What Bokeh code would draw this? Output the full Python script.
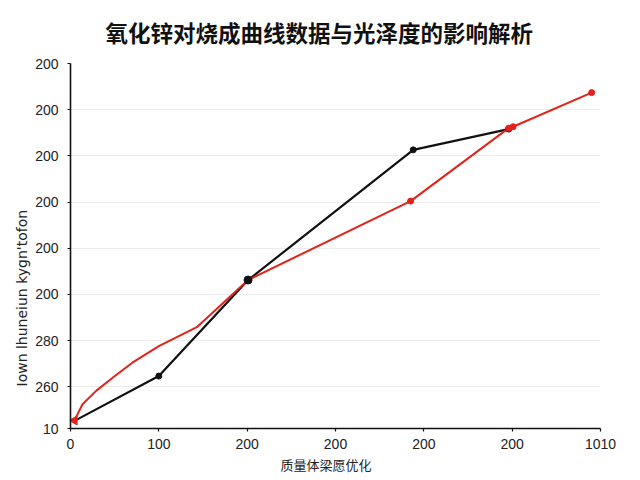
import math
from bokeh.plotting import figure
from bokeh.models import FixedTicker, Range1d, Title
from bokeh.embed import file_html
from bokeh.resources import INLINE

# ---- data ----
title_text = "氧化锌对烧成曲线数据与光泽度的影响解析"
x_label_text = "质量体梁愿优化"
y_label_text = "Iown lhuneiun  kygn'tofon"

x_ticks = [0, 1, 2, 3, 4, 5, 6]
x_tick_labels = ["0", "100", "200", "200", "200", "200", "1010"]
y_ticks = [0.095, 1, 2, 3, 4, 5, 6, 7, 8]
y_tick_labels = ["10", "260", "280", "200", "200", "200", "200", "200", "200"]

black_x = [0.045, 1.0, 2.01, 3.88, 4.96]
black_y = [0.26, 1.23, 3.31, 6.13, 6.58]
black_marker_idx = [1, 3, 4]
black_big_idx = [2]

red_x = [0.045, 0.136, 0.29, 0.48, 0.70, 1.0, 1.43, 2.01, 3.85, 4.96, 5.01, 5.90]
red_y = [0.27, 0.62, 0.91, 1.20, 1.52, 1.88, 2.29, 3.31, 5.02, 6.60, 6.63, 7.37]
red_marker_idx = [8, 9, 10, 11]
red_start_idx = [0]

BLACK = "#111111"
RED = "#e3221b"
TICK_FONT = "Liberation Sans"
CJK_FONT = "Noto Sans CJK SC"

p = figure(width=640, height=480, output_backend="svg", toolbar_location=None,
           x_range=Range1d(0, 6), y_range=Range1d(0.095, 8),
           min_border_left=70, min_border_right=40, min_border_top=63,
           min_border_bottom=52)
p.outline_line_color = None
p.background_fill_color = "white"
p.border_fill_color = "white"

# title
p.title.text = title_text
p.title.text_font = CJK_FONT
p.title.text_font_size = "22.5px"
p.title.text_font_style = "bold"
p.title.text_color = "#111111"
p.title.vertical_align = "top"
p.title.align = "left"
p.title.offset = 35
p.title.standoff = 28

# axes
p.xaxis.ticker = FixedTicker(ticks=x_ticks)
p.yaxis.ticker = FixedTicker(ticks=y_ticks)
p.xaxis.major_label_overrides = {t: l for t, l in zip(x_ticks, x_tick_labels)}
p.yaxis.major_label_overrides = {t: l for t, l in zip(y_ticks, y_tick_labels)}
for ax in (p.xaxis, p.yaxis):
    ax.axis_line_color = "#111111"
    ax.axis_line_width = 1.6
    ax.major_tick_line_color = "#111111"
    ax.major_tick_line_width = 1.2
    ax.major_tick_out = 3
    ax.major_tick_in = 0
    ax.minor_tick_line_color = None
    ax.major_label_text_font = TICK_FONT
    ax.major_label_text_font_size = "14px"
    ax.major_label_text_color = "#222222"
p.xaxis.major_label_standoff = 7
p.yaxis.major_label_standoff = 9

p.xgrid.grid_line_color = None
p.ygrid.grid_line_color = "#ececec"
p.ygrid.grid_line_width = 1

# axis titles
p.add_layout(Title(text=x_label_text, text_font=CJK_FONT, text_font_size="13px",
                   text_font_style="normal", text_color="#222222",
                   align="left", offset=210, standoff=2), "below")
p.add_layout(Title(text=y_label_text, text_font="DejaVu Sans", text_font_size="14px",
                   text_font_style="normal", text_color="#222222",
                   align="left", offset=42, standoff=6), "left")

# lines
p.line(black_x, black_y, line_color=BLACK, line_width=2.2)
p.line(red_x, red_y, line_color=RED, line_width=2.0)

p.scatter([black_x[i] for i in black_marker_idx], [black_y[i] for i in black_marker_idx],
          size=6, color=BLACK)
p.scatter([black_x[i] for i in black_big_idx], [black_y[i] for i in black_big_idx],
          size=8, color=BLACK)
p.scatter([red_x[i] for i in red_marker_idx], [red_y[i] for i in red_marker_idx],
          size=6, color=RED)
p.scatter([red_x[i] for i in red_start_idx], [red_y[i] for i in red_start_idx],
          marker="triangle", angle=math.pi / 2, size=9, color=RED)

open("out.html", "w").write(file_html(p, INLINE))
